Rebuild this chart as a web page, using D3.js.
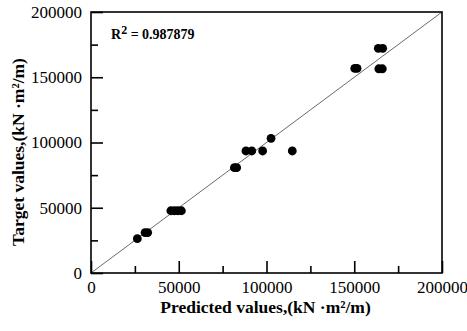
<!DOCTYPE html>
<html>
<head>
<meta charset="utf-8">
<script src="https://cdn.jsdelivr.net/npm/d3@7"></script>
<style>
  body { margin: 0; background: #fff; }
  text { font-family: "Liberation Serif", "Times New Roman", serif; }
</style>
</head>
<body>
<svg id="chart" width="467" height="331"></svg>
<script>
// predicted vs target values
const predicted = [26400, 30800, 32300, 45500, 47500, 49500, 51500, 81700, 83000,
    88300, 91600, 97800, 114700, 102600, 150300, 151600, 164000, 166000, 163700, 166200];
const target = [26300, 31000, 31000, 47700, 47700, 47700, 47700, 80700, 80700,
    93500, 93500, 93500, 93500, 103200, 156800, 156800, 156500, 156500, 172200, 172200];
const majorTicks = [0, 50000, 100000, 150000, 200000];
const minorTicks = [25000, 75000, 125000, 175000];
const rSquared = "0.987879";

const svg = d3.select("#chart");
const margin = { left: 91, right: 25, top: 12, bottom: 58 };
const width = 467 - margin.left - margin.right;
const height = 331 - margin.top - margin.bottom;

const x = d3.scaleLinear().domain([0, 200000]).range([margin.left, margin.left + width]);
const y = d3.scaleLinear().domain([0, 200000]).range([margin.top + height, margin.top]);

// diagonal reference line
svg.append("line")
    .attr("x1", x(0)).attr("y1", y(0))
    .attr("x2", x(200000)).attr("y2", y(200000))
    .attr("stroke", "#6a6a6a")
    .attr("stroke-width", 1);

// frame
svg.append("rect")
    .attr("x", x(0)).attr("y", y(200000))
    .attr("width", width).attr("height", height)
    .attr("fill", "none")
    .attr("stroke", "black")
    .attr("stroke-width", 1.6);

// axes with inward ticks
function styleAxis(g) {
    g.select(".domain").remove();
    g.selectAll(".tick line").attr("stroke", "black").attr("stroke-width", 1.6);
    g.selectAll(".tick text")
        .attr("fill", "black")
        .style("font-family", "'Liberation Serif', serif")
        .style("font-size", "17px");
}

svg.append("g")
    .attr("transform", `translate(0,${y(0)})`)
    .call(d3.axisTop(x).tickValues(minorTicks).tickSize(7).tickFormat(""))
    .call(styleAxis);
let xAxis = svg.append("g")
    .attr("transform", `translate(0,${y(0)})`)
    .call(d3.axisTop(x).tickValues(majorTicks).tickSize(12).tickFormat(d3.format("d")))
    .call(styleAxis);
xAxis.selectAll(".tick text").attr("y", 8).attr("dy", "0.71em");

svg.append("g")
    .attr("transform", `translate(${x(0)},0)`)
    .call(d3.axisRight(y).tickValues(minorTicks).tickSize(7).tickFormat(""))
    .call(styleAxis);
let yAxis = svg.append("g")
    .attr("transform", `translate(${x(0)},0)`)
    .call(d3.axisRight(y).tickValues(majorTicks).tickSize(12).tickFormat(d3.format("d")))
    .call(styleAxis);
yAxis.selectAll(".tick text").attr("x", -9).attr("text-anchor", "end");

// points
svg.append("g").selectAll("circle")
    .data(predicted.map((p, i) => ({ p, t: target[i] })))
    .enter()
    .append("circle")
    .attr("cx", d => x(d.p))
    .attr("cy", d => y(d.t))
    .attr("r", 4.4)
    .attr("fill", "black");

// R squared label
let r2 = svg.append("text")
    .attr("x", 111)
    .attr("y", 39)
    .style("font-size", "14px")
    .style("font-weight", "bold")
    .attr("fill", "black");
r2.append("tspan").text("R");
r2.append("tspan").attr("dy", -5).style("font-size", "12px").text("2");
r2.append("tspan").attr("dy", 5).text(" = " + rSquared);

// axis titles
svg.append("text")
    .attr("x", x(100000) - 1)
    .attr("y", 313)
    .attr("text-anchor", "middle")
    .style("font-size", "17.5px")
    .style("font-weight", "bold")
    .text("Predicted values,(kN ·m²/m)");

svg.append("text")
    .attr("transform", `translate(24,152) rotate(-90)`)
    .attr("text-anchor", "middle")
    .style("font-size", "17.5px")
    .style("font-weight", "bold")
    .text("Target values,(kN ·m²/m)");
</script>
</body>
</html>
